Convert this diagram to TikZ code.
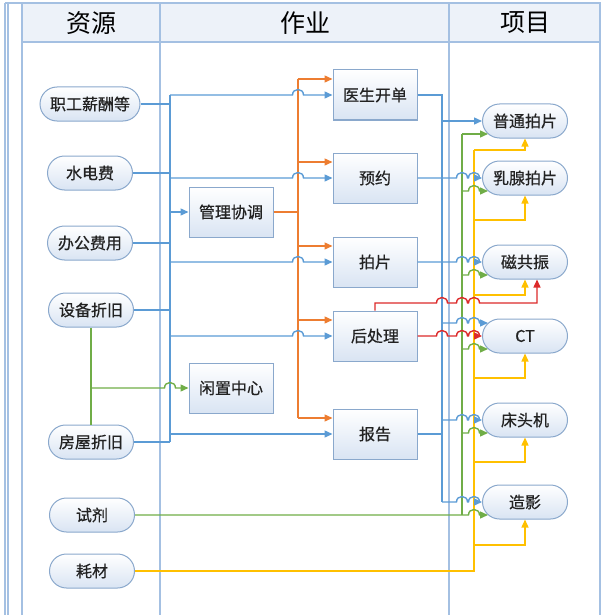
\documentclass[tikz,border=0pt]{standalone}
\usepackage{fontspec}
\setmainfont{Noto Sans CJK SC}
\newfontfamily\nodefont{Noto Sans CJK SC}[FakeBold=0.6]
\usetikzlibrary{arrows.meta,calc}
\definecolor{cblue}{HTML}{5B9BD5}
\definecolor{corange}{HTML}{ED7D31}
\definecolor{cgreen}{HTML}{70AD47}
\definecolor{cyellow}{HTML}{FFC000}
\definecolor{cred}{HTML}{DC2A2A}
\definecolor{lanec}{HTML}{A4C0E2}
\definecolor{nodeline}{HTML}{8AA8CC}
\definecolor{nodefill}{HTML}{D9E4F3}
\definecolor{headfill}{HTML}{EDF2F9}
\definecolor{txt}{HTML}{222222}
\newcommand\hopx[2]{-- ({#1-5.5},#2) .. controls ({#1-5.5},{#2-7.3}) and ({#1+5.5},{#2-7.3}) .. ({#1+5.5},#2)}
\tikzset{
  conn/.style={line width=1.4pt},
  tip/.style={-{Triangle[length=8pt,width=7pt]}},
  pill/.style={draw=nodeline, line width=1pt, rounded corners=17pt, minimum height=34pt,
    minimum width=85pt, inner xsep=10pt, top color=white, bottom color=nodefill, text=txt,
    font=\nodefont\fontsize{16}{19}\selectfont},
  actbox/.style={draw=nodeline, line width=1pt, minimum width=84pt, minimum height=50pt,
    top color=white, bottom color=nodefill, text=txt, font=\nodefont\fontsize{16}{19}\selectfont},
  lanel/.style={draw=lanec, line width=1.2pt},
  headtxt/.style={text=black, font=\fontsize{25}{28}\selectfont}
}
\begin{document}
\begin{tikzpicture}[x=1pt,y=-1pt]
\useasboundingbox (0,0) rectangle (602,615);
% swimlanes
\fill[headfill] (22,4) rectangle (600,42);
\draw[lanel] (5,3) -- (601,3);
\draw[lanel] (5,3) -- (5,615);
\draw[lanel] (8,3) -- (8,615);
\draw[lanel] (22,3) -- (22,615);
\draw[lanel] (160,3) -- (160,615);
\draw[lanel] (449,3) -- (449,615);
\draw[lanel] (600,3) -- (600,615);
\draw[lanel] (22,42) -- (600,42);
\node[headtxt] (h1) at (91,23) {资源};
\node[headtxt] (h2) at (305,23) {作业};
\node[headtxt] (h3) at (525,23) {项目};
% resources
\node[pill] (r1) at (90,104) {职工薪酬等};
\node[pill] (r2) at (90,173) {水电费};
\node[pill] (r3) at (90,243) {办公费用};
\node[pill] (r4) at (91,310) {设备折旧};
\node[pill] (r5) at (91,442) {房屋折旧};
\node[pill] (r6) at (92,515) {试剂};
\node[pill] (r7) at (92,571) {耗材};
% activities
\node[actbox] (mg) at (231,212) {管理协调};
\node[actbox] (idle) at (231,388) {闲置中心};
\node[actbox] (a1) at (375,95) {医生开单};
\node[actbox] (a2) at (375,178) {预约};
\node[actbox] (a3) at (375,262) {拍片};
\node[actbox] (a4) at (375,336) {后处理};
\node[actbox] (a5) at (375,434) {报告};
% projects
\node[pill] (p1) at (525,121) {普通拍片};
\node[pill] (p2) at (525,178) {乳腺拍片};
\node[pill] (p3) at (525,262) {磁共振};
\node[pill] (p4) at (525,336) {CT};
\node[pill] (p5) at (525,420) {床头机};
\node[pill] (p6) at (525,502) {造影};
% orange
\draw[conn,corange] (mg.east) -- (298,212);
\draw[conn,corange] (298,79) -- (298,418);
\foreach \n in {a1,a2,a3,a4,a5}
  \draw[conn,corange,tip] ($(\n.west)+(-35,-16)$) -- ($(\n.west)+(0,-16)$);
% left blue bus
\draw[conn,cblue] (170,95) -- (170,442);
\foreach \n in {r1,r2,r3,r4,r5}
  \draw[conn,cblue] (\n.east) -- (170,0 |- \n.east);
\draw[conn,cblue,tip] (170,95) \hopx{298}{95} -- (a1.west);
\draw[conn,cblue,tip] (170,178) \hopx{298}{178} -- (a2.west);
\draw[conn,cblue,tip] (170,212) -- (mg.west);
\draw[conn,cblue,tip] (170,262) \hopx{298}{262} -- (a3.west);
\draw[conn,cblue,tip] (170,336) \hopx{298}{336} -- (a4.west);
\draw[conn,cblue,tip] (170,434) -- (a5.west);
% left green
\draw[conn,cgreen] (r4.south) -- (r5.north);
\draw[conn,cgreen,tip] (r4.south |- idle.west) \hopx{170}{388} -- (idle.west);
% right buses
\draw[conn,cblue] (a1.east) -- (442,95) -- (442,502);
\draw[conn,cblue] (a5.east) -- (442,434);
\draw[conn,cgreen] (462,134) -- (462,515);
\draw[conn,cyellow] (r7.east) -- (474,571) -- (474,150);
% blue to projects
\draw[conn,cblue,tip] (442,121) -- (p1.west);
\draw[conn,cblue,tip] (a2.east) \hopx{462}{178} \hopx{474}{178} -- (p2.west);
\draw[conn,cblue,tip] (a3.east) \hopx{462}{262} \hopx{474}{262} -- (p3.west);
\draw[conn,cblue,tip] (442,323) \hopx{462}{323} \hopx{474}{323} -- ($(p4.west)+(6,-13)$);
\draw[conn,cblue,tip] (442,420) \hopx{462}{420} \hopx{474}{420} -- (p5.west);
\draw[conn,cblue,tip] (442,502) \hopx{462}{502} \hopx{474}{502} -- (p6.west);
% green to projects
\draw[conn,cgreen,tip] (462,134) -- ($(p1.west)+(6,13)$);
\draw[conn,cgreen,tip] (462,191) \hopx{474}{191} -- ($(p2.west)+(6,13)$);
\draw[conn,cgreen,tip] (462,275) \hopx{474}{275} -- ($(p3.west)+(6,13)$);
\draw[conn,cgreen,tip] (462,349) \hopx{474}{349} -- ($(p4.west)+(6,13)$);
\draw[conn,cgreen,tip] (462,433) \hopx{474}{433} -- ($(p5.west)+(6,13)$);
\draw[conn,cgreen,tip] (r6.east) \hopx{474}{515} -- ($(p6.west)+(6,13)$);
% yellow to projects
\draw[conn,cyellow,tip] (474,150) -| (p1.south);
\draw[conn,cyellow,tip] (474,220) -| (p2.south);
\draw[conn,cyellow,tip] (474,295) -| (p3.south);
\draw[conn,cyellow,tip] (474,378) -| (p4.south);
\draw[conn,cyellow,tip] (474,462) -| (p5.south);
\draw[conn,cyellow,tip] (474,545) -| (p6.south);
% red
\draw[conn,cred,tip] (a4.north) -- (375,303) \hopx{442}{303} \hopx{462}{303} \hopx{474}{303} -- (537,303) -- ($(p3.south)+(12,0)$);
\draw[conn,cred,tip] (a4.east) \hopx{442}{336} \hopx{462}{336} \hopx{474}{336} -- (p4.west);
\end{tikzpicture}
\end{document}
